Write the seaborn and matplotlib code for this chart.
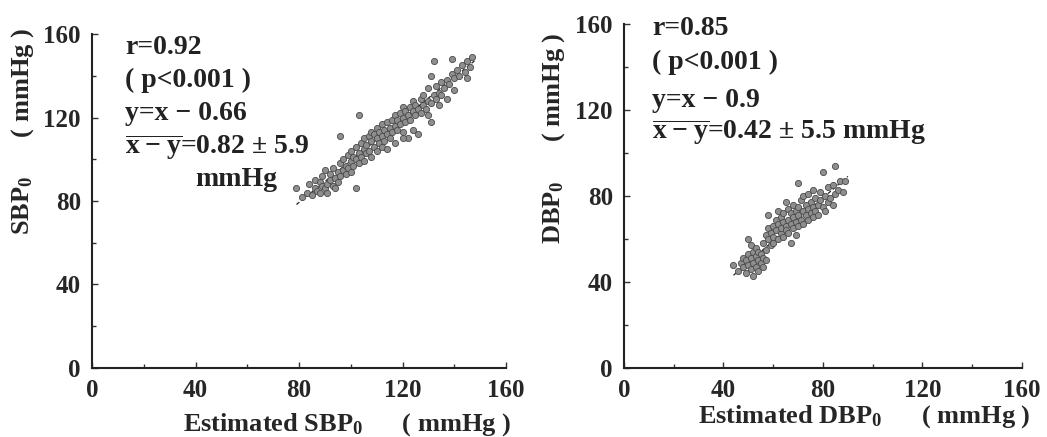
import numpy as np
import pandas as pd
import matplotlib
matplotlib.use("Agg")
import matplotlib.pyplot as plt
import seaborn as sns
from matplotlib.ticker import MultipleLocator

# --- dati (valori stimati) ---
sbp_est = [79, 81, 83, 84, 85, 86, 86, 87, 88, 88, 89, 89, 90, 90, 91, 91, 92, 92, 93, 93,
           94, 94, 95, 95, 96, 96, 96, 97, 97, 98, 98, 99, 99, 100, 100, 100, 101, 101, 102, 102,
           102, 103, 103, 103, 104, 104, 105, 105, 105, 106, 106, 107, 107, 108, 108, 108, 109, 109, 110, 110,
           110, 111, 111, 112, 112, 112, 113, 113, 114, 114, 114, 115, 115, 116, 116, 117, 117, 117, 118, 118,
           119, 119, 120, 120, 120, 121, 121, 122, 122, 123, 123, 124, 124, 125, 125, 126, 126, 127, 127, 128,
           128, 129, 130, 130, 131, 131, 132, 132, 133, 133, 134, 134, 135, 135, 136, 137, 137, 138, 139, 139,
           140, 140, 141, 142, 143, 144, 145, 145, 146, 147, 120, 124, 130, 131]
sbp_meas = [86, 82, 84, 88, 83, 86, 90, 85, 84, 89, 92, 87, 86, 95, 88, 84, 90, 93, 87, 96,
            91, 86, 94, 89, 98, 92, 111, 95, 100, 93, 97, 102, 96, 99, 104, 94, 101, 97, 106, 86,
            100, 103, 121, 98, 108, 101, 105, 110, 99, 107, 103, 111, 104, 109, 113, 101, 106, 112, 110, 104,
            115, 108, 113, 111, 106, 117, 114, 109, 112, 118, 105, 115, 110, 119, 113, 116, 121, 108, 114, 119,
            122, 117, 120, 113, 125, 118, 123, 121, 110, 125, 119, 123, 128, 121, 126, 124, 112, 129, 122, 126,
            131, 124, 128, 134, 127, 118, 131, 147, 129, 135, 132, 126, 137, 131, 134, 138, 129, 136, 141, 148,
            139, 133, 143, 140, 145, 142, 139, 147, 144, 149, 110, 114, 121, 140]

dbp_est = [44, 46, 47, 48, 48, 49, 49, 50, 50, 50, 51, 51, 51, 52, 52, 52, 53, 53, 53, 54,
           54, 54, 55, 55, 56, 56, 57, 57, 56, 57, 58, 58, 58, 59, 59, 60, 60, 60, 61, 61,
           62, 62, 62, 63, 63, 63, 64, 64, 64, 65, 65, 65, 66, 66, 66, 67, 67, 67, 68, 68,
           68, 69, 69, 69, 70, 70, 70, 70, 71, 71, 72, 72, 72, 73, 73, 74, 74, 74, 75, 75,
           76, 76, 76, 77, 77, 78, 78, 79, 79, 80, 80, 81, 81, 82, 82, 83, 84, 84, 85, 85,
           86, 87, 88, 89]
dbp_meas = [48, 45, 49, 47, 51, 44, 50, 48, 53, 60, 46, 51, 57, 49, 54, 43, 47, 52, 56, 50,
            45, 54, 49, 53, 51, 47, 55, 50, 58, 62, 60, 65, 71, 57, 63, 61, 66, 58, 64, 69,
            60, 67, 73, 63, 65, 70, 61, 68, 72, 66, 64, 77, 69, 63, 74, 67, 72, 58, 70, 65,
            76, 68, 73, 62, 71, 75, 66, 86, 69, 78, 73, 67, 80, 71, 76, 74, 69, 81, 72, 77,
            75, 70, 83, 73, 79, 76, 71, 78, 82, 75, 91, 80, 73, 77, 84, 79, 76, 85, 94, 81,
            83, 87, 82, 87]

# equazioni di regressione riportate nel grafico
sbp_offset = -0.66
dbp_offset = -0.9

pannelli = [
    dict(x=sbp_est, y=sbp_meas, off=sbp_offset, nome="SBP",
         testo=["r=0.92", "( p<0.001 )", "y=x − 0.66",
                r"$\overline{\mathregular{x-y}}$=0.82 ± 5.9"],
         extra="mmHg"),
    dict(x=dbp_est, y=dbp_meas, off=dbp_offset, nome="DBP",
         testo=["r=0.85", "( p<0.001 )", "y=x − 0.9",
                r"$\overline{\mathregular{x-y}}$=0.42 ± 5.5 mmHg"],
         extra=None),
]

sns.set_style("ticks")
plt.rcParams["font.family"] = ["Liberation Serif", "DejaVu Serif"]
plt.rcParams["font.weight"] = "bold"

fig = plt.figure(figsize=(10.47, 4.37), dpi=100)
ax1 = fig.add_axes([0.0879, 0.158, 0.3954, 0.764])
ax2 = fig.add_axes([0.596, 0.158, 0.380, 0.787])
assi = [ax1, ax2]

# posizioni delle etichette (coordinate assi)
ylab_pos = [(-0.135, 0.71), (-0.143, 0.669)]
xlab_pos = [(0.616, -0.13), (0.603, -0.103)]
testo_x = [0.08, 0.07]
testo_y = [[0.961, 0.862, 0.763, 0.662], [0.988, 0.887, 0.779, 0.686]]

for i, (ax, p) in enumerate(zip(assi, pannelli)):
    df = pd.DataFrame({"est": p["x"], "mis": p["y"]})
    sns.scatterplot(data=df, x="est", y="mis", ax=ax, s=20, color="#8e8e8e",
                    edgecolor="#4a4a4a", linewidth=0.6, zorder=3)
    xx = np.array([min(p["x"]), max(p["x"]) + 1])
    sns.lineplot(x=xx, y=xx + p["off"], ax=ax, color="#222222", lw=0.9,
                 linestyle=(0, (3, 2)), zorder=2)

    ax.set_xlim(0, 160)
    ax.set_ylim(0, 160)
    ax.xaxis.set_major_locator(MultipleLocator(40))
    ax.yaxis.set_major_locator(MultipleLocator(40))
    ax.xaxis.set_minor_locator(MultipleLocator(20))
    ax.yaxis.set_minor_locator(MultipleLocator(20))
    ax.tick_params(which="both", direction="in", color="#333333", labelsize=18, pad=8)
    ax.tick_params(which="major", length=4, width=1)
    ax.tick_params(which="minor", length=3, width=1)
    for s in ["top", "right"]:
        ax.spines[s].set_visible(False)
    for s in ["left", "bottom"]:
        ax.spines[s].set_linewidth(1.5)
        ax.spines[s].set_color("#222222")

    ax.set_xlabel("Estimated " + p["nome"] + r"$\mathregular{_0}$      ( mmHg )",
                  fontsize=19, fontweight="bold")
    ax.set_ylabel(p["nome"] + r"$\mathregular{_0}$      ( mmHg )",
                  fontsize=19, fontweight="bold")
    ax.xaxis.set_label_coords(*xlab_pos[i])
    ax.yaxis.set_label_coords(*ylab_pos[i])

    for riga, yy in zip(p["testo"], testo_y[i]):
        ax.text(testo_x[i], yy, riga, transform=ax.transAxes, fontsize=20,
                fontweight="bold", va="center", ha="left", color="#222222")
    if p["extra"]:
        ax.text(0.249, 0.563, p["extra"], transform=ax.transAxes, fontsize=20,
                fontweight="bold", va="center", ha="left", color="#222222")

fig.savefig("out.png", dpi=100)
